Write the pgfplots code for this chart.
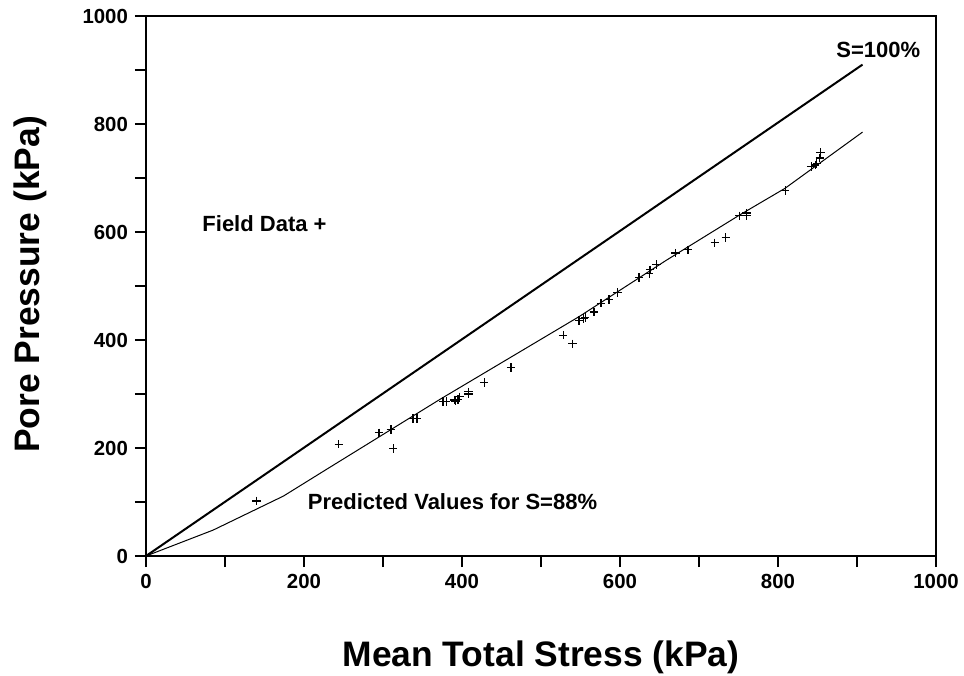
\documentclass[border=0pt]{standalone}
\usepackage{pgfplots}
\pgfplotsset{compat=1.18}
\usepackage{fontspec}
\setmainfont{Liberation Sans}
\begin{document}
\begin{tikzpicture}
\path[use as bounding box] (-73pt,-59.5pt) rectangle (409pt,278pt);
\begin{axis}[
  scale only axis,
  width=395pt, height=270pt,
  xmin=0, xmax=1000, ymin=0, ymax=1000,
  xtick={0,200,...,1000}, ytick={0,200,...,1000},
  minor x tick num=1, minor y tick num=1,
  tick align=outside,
  xtick pos=left, ytick pos=left,
  major tick length=5.5pt, minor tick length=5.5pt,
  every tick/.style={black, line width=0.6pt},
  axis line style={line width=0.8pt},
  /pgf/number format/assume math mode=true,
  /pgf/number format/1000 sep={},
  tick label style={font=\fontsize{10.2}{12}\selectfont\bfseries},
  xlabel={Mean Total Stress (kPa)},
  ylabel={Pore Pressure (kPa)},
  label style={font=\fontsize{17.7}{20}\selectfont\bfseries},
  xlabel style={at={(axis description cs:0.5,-0.188)}, anchor=center},
  ylabel style={at={(axis description cs:-0.147,0.503)}, anchor=center, rotate=0},
  clip=false,
]
\addplot[black, line width=1pt] coordinates {(0,0) (907,910)};
\addplot[black, line width=0.5pt] coordinates {
(0,0) (85,48) (174,111) (228,160) (372,290) (549,444) (659,548) (752,632) (809,681) (907,785)};
\addplot[only marks, mark=+, mark size=2.1pt, black, mark options={line width=0.6pt}] coordinates {
(140,102) (244,207) (295,228) (310,234) (313,199) (338,255) (343,255)
(376,286) (380,286) (390,289) (392,287) (395,290) (397,295) (408,304) (408,300)
(428,321) (462,349) (528,409) (540,393) (548,436) (554,440) (556,442)
(567,452) (576,468) (586,475) (597,488) (624,516) (637,523) (638,530)
(646,540) (670,561) (686,567) (720,580) (734,590) (751,630) (760,635)
(760,630) (809,677) (842,721) (847,724) (849,727) (853,737) (854,747)};
\node[font=\fontsize{11}{13}\selectfont\bfseries] at (axis cs:927,937) {S=100\%};
\node[font=\fontsize{11}{13}\selectfont\bfseries] at (axis cs:150,616) {Field Data +};
\node[font=\fontsize{11}{13}\selectfont\bfseries] at (axis cs:388,100) {Predicted Values for S=88\%};
\end{axis}
\end{tikzpicture}
\end{document}
